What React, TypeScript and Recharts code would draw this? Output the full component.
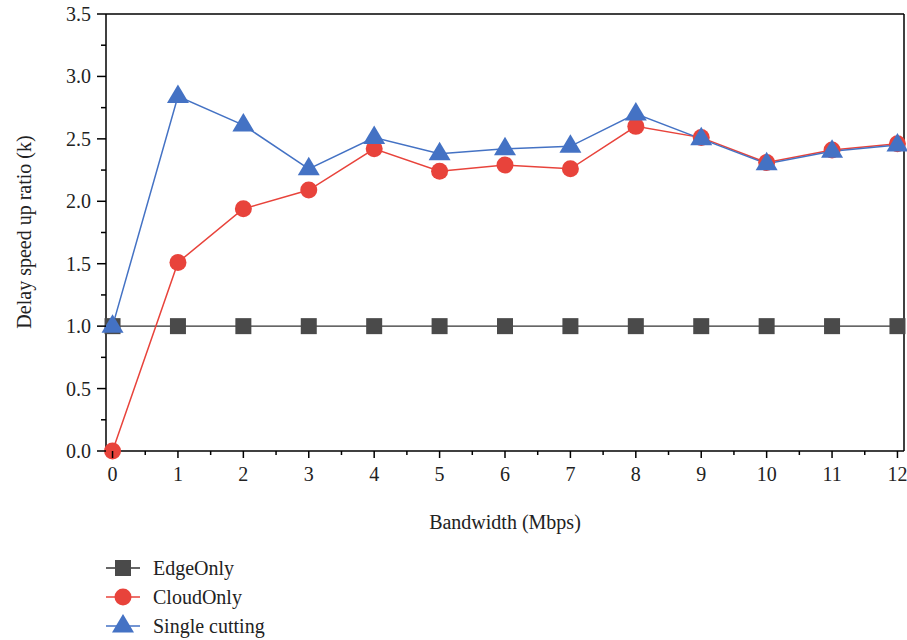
import { LineChart, Line, XAxis, YAxis, ReferenceLine } from "recharts"

// bandwidth in Mbps
const bandwidth = [0, 1, 2, 3, 4, 5, 6, 7, 8, 9, 10, 11, 12]
const edgeOnly = [1, 1, 1, 1, 1, 1, 1, 1, 1, 1, 1, 1, 1]
const cloudOnly = [0, 1.51, 1.94, 2.09, 2.42, 2.24, 2.29, 2.26, 2.6, 2.51, 2.31, 2.41, 2.46]
const singleCutting = [1, 2.84, 2.61, 2.26, 2.51, 2.38, 2.42, 2.44, 2.7, 2.5, 2.3, 2.4, 2.45]

const xTicks = [0, 0.5, 1, 1.5, 2, 2.5, 3, 3.5, 4, 4.5, 5, 5.5, 6, 6.5, 7, 7.5, 8, 8.5, 9, 9.5, 10, 10.5, 11, 11.5, 12]
const yTicks = [0, 0.25, 0.5, 0.75, 1, 1.25, 1.5, 1.75, 2, 2.25, 2.5, 2.75, 3, 3.25, 3.5]

const data = bandwidth.map((b, i) => ({
  bw: b,
  edge: edgeOnly[i],
  cloud: cloudOnly[i],
  single: singleCutting[i],
}))

const FONT = "'Liberation Serif', 'Times New Roman', serif"
const GREY = "#4a4a4a"
const RED = "#e8433b"
const BLUE = "#4472c4"

const isMult = (v: number, step: number) => Math.abs(v / step - Math.round(v / step)) < 1e-6

function YTick({ x, y, payload }: any) {
  const major = isMult(payload.value, 0.5)
  return (
    <g>
      <line x1={x} x2={x - (major ? 9 : 5)} y1={y} y2={y} stroke="#000" strokeWidth={1.5} />
      {major && (
        <text x={x - 15} y={y} textAnchor="end" dominantBaseline="central" fontFamily={FONT} fontSize={20} fill="#222">
          {payload.value.toFixed(1)}
        </text>
      )}
    </g>
  )
}

function XTick({ x, y, payload }: any) {
  const major = isMult(payload.value, 1)
  return (
    <g>
      <line x1={x} x2={x} y1={y} y2={y + (major ? 7 : 4)} stroke="#000" strokeWidth={1.5} />
      {major && (
        <text x={x} y={y + 23} textAnchor="middle" dominantBaseline="central" fontFamily={FONT} fontSize={20} fill="#222">
          {payload.value}
        </text>
      )}
    </g>
  )
}

const square = (cx: number, cy: number, key?: any) => (
  <rect key={key} x={cx - 8} y={cy - 8} width={16} height={16} fill={GREY} />
)
const circle = (cx: number, cy: number, key?: any) => (
  <circle key={key} cx={cx} cy={cy} r={8.5} fill={RED} />
)
const triangle = (cx: number, cy: number, key?: any) => (
  <polygon key={key} points={`${cx},${cy - 12} ${cx - 11},${cy + 6.5} ${cx + 11},${cy + 6.5}`} fill={BLUE} />
)

const legendItems = [
  { name: "EdgeOnly", color: "#333", marker: square },
  { name: "CloudOnly", color: RED, marker: circle },
  { name: "Single cutting", color: BLUE, marker: triangle },
]

export default function App() {
  return (
    <div style={{ position: "absolute", left: 0, top: 0, width: 907, height: 640, background: "#fff" }}>
      <LineChart
        width={907}
        height={640}
        data={data}
        margin={{ top: 14, right: 3, bottom: 149, left: 46 }}
      >
        <XAxis
          dataKey="bw"
          type="number"
          domain={[-0.1, 12.1]}
          ticks={xTicks}
          interval={0}
          height={40}
          tickSize={0}
          tickMargin={0}
          tickLine={false}
          tick={<XTick />}
          axisLine={{ stroke: "#000", strokeWidth: 1.5 }}
        />
        <YAxis
          type="number"
          domain={[0, 3.5]}
          ticks={yTicks}
          interval={0}
          width={60}
          tickSize={0}
          tickMargin={0}
          tickLine={false}
          tick={<YTick />}
          axisLine={{ stroke: "#000", strokeWidth: 1.5 }}
        />
        <ReferenceLine y={3.5} stroke="#000" strokeWidth={1.5} />
        <ReferenceLine x={12.1} stroke="#000" strokeWidth={1.5} />
        <Line
          dataKey="edge"
          stroke="#333"
          strokeWidth={1.2}
          isAnimationActive={false}
          dot={(p: any) => square(p.cx, p.cy, p.index)}
        />
        <Line
          dataKey="cloud"
          stroke={RED}
          strokeWidth={1.5}
          isAnimationActive={false}
          dot={(p: any) => circle(p.cx, p.cy, p.index)}
        />
        <Line
          dataKey="single"
          stroke={BLUE}
          strokeWidth={1.5}
          isAnimationActive={false}
          dot={(p: any) => triangle(p.cx, p.cy, p.index)}
        />
      </LineChart>
      <svg
        width={907}
        height={640}
        style={{ position: "absolute", left: 0, top: 0, pointerEvents: "none" }}
      >
        <text
          transform="translate(24,232) rotate(-90)"
          textAnchor="middle"
          dominantBaseline="central"
          fontFamily={FONT}
          fontSize={20}
          fill="#222"
        >
          Delay speed up ratio (k)
        </text>
        <text x={505} y={522} textAnchor="middle" dominantBaseline="central" fontFamily={FONT} fontSize={20} fill="#222">
          Bandwidth (Mbps)
        </text>
        {legendItems.map((item, i) => {
          const cy = 568 + i * 29
          return (
            <g key={item.name}>
              <line x1={106} x2={140} y1={cy} y2={cy} stroke={item.color} strokeWidth={1.5} />
              {item.marker(123, cy)}
              <text x={153} y={cy} dominantBaseline="central" fontFamily={FONT} fontSize={20} fill="#222">
                {item.name}
              </text>
            </g>
          )
        })}
      </svg>
    </div>
  )
}
